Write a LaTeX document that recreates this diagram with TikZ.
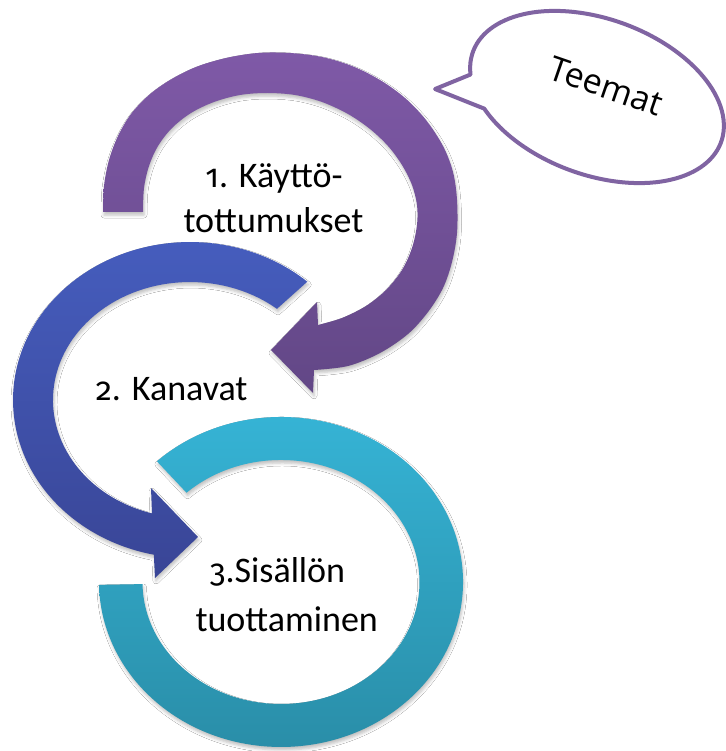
\documentclass[tikz,border=0pt]{standalone}
\usepackage{fontspec}
\setmainfont{Carlito}
\newfontfamily\digitfont{Fira Sans}[Numbers=OldStyle,Scale=0.9]
\newfontfamily\teemafont{Open Sans}
\usetikzlibrary{shadows.blur}
\definecolor{purpTop}{RGB}{127,89,167}
\definecolor{purpBot}{RGB}{98,71,134}
\definecolor{blueTop}{RGB}{70,94,191}
\definecolor{blueBot}{RGB}{57,69,150}
\definecolor{cyanTop}{RGB}{54,181,215}
\definecolor{cyanBot}{RGB}{41,140,166}
\definecolor{bubbleLine}{RGB}{128,100,162}
\begin{document}
\begin{tikzpicture}[x=1pt,y=1pt,
  arrowshape/.style={blur shadow={shadow xshift=1pt,shadow yshift=-3pt,shadow blur radius=3pt,shadow opacity=25}},
  txt/.style={font=\fontsize{36}{44}\selectfont, text=black, inner sep=0pt, anchor=base}]
\fill[white] (0,0) rectangle (725,-751);
\useasboundingbox (0,0) rectangle (725,-751);

% purple arrow
\path[arrowshape, top color=purpTop, bottom color=purpBot]
 plot[smooth, tension=0.55] coordinates {(103,-212) (104,-186) (109,-160) (118,-136) (131,-114) (149,-95) (170,-80) (196,-67) (226,-58) (258,-53) (290,-53) (322,-57) (352,-66) (380,-80) (405,-98) (426,-120) (443,-146) (453,-172) (457,-200) (457,-233) (452,-262) (443,-288) (428,-312) (408,-334) (380,-353) (348,-366) (314,-370)}
 -- (313,-393) -- (271,-350) -- (317,-302)
 -- plot[smooth, tension=0.55] coordinates {(318,-325) (342,-318) (366,-306) (386,-290) (402,-270) (412,-248) (417,-225) (417,-205) (412,-185) (402,-165) (388,-146) (370,-129) (348,-114) (322,-102) (295,-95) (267,-93) (240,-95) (214,-102) (191,-113) (172,-128) (158,-146) (149,-166) (144,-188) (143,-212)}
 -- cycle;

% blue arrow
\path[arrowshape, top color=blueTop, bottom color=blueBot]
 (307.3,-281.7) arc[start angle=48.5, end angle=258.2, x radius=177, y radius=158]
 -- (155,-578) -- (198,-537) -- (151,-488)
 -- (152.0,-513.4) arc[start angle=253.9, end angle=50.6, x radius=137, y radius=118]
 -- cycle;

% cyan ring
\path[arrowshape, top color=cyanTop, bottom color=cyanBot]
 (156.9,-461.3) arc[start angle=133, end angle=-179, x radius=182, y radius=165]
 -- (142.5,-584.1) arc[start angle=-179, end angle=133, x radius=138.5, y radius=122] -- cycle;

% speech bubble
\begin{scope}[shift={(597,-97)}, rotate=-20]
\draw[line width=4pt, draw=bubbleLine, fill=white, line join=round]
 (196.5:132 and 78) arc[start angle=196.5, end angle=-140.6, x radius=132, y radius=78]
 -- (-154.9,-47.9) -- cycle;
\end{scope}
\node[font=\teemafont\fontsize{34}{40}\selectfont, rotate=-19, inner sep=0pt] (teemat) at (606,-86) {Teemat};

% labels
\node[txt] (t1a) at (274,-188) {{\digitfont 1}. Käyttö-};
\node[txt] (t1b) at (273.5,-233) {tottumukset};
\node[txt] (t2) at (171.7,-400.7) {{\digitfont 2}. Kanavat};
\node[txt] (t3a) at (277.5,-582) {{\digitfont 3}.Sisällön};
\node[txt] (t3b) at (286.7,-631.7) {tuottaminen};
\end{tikzpicture}
\end{document}
